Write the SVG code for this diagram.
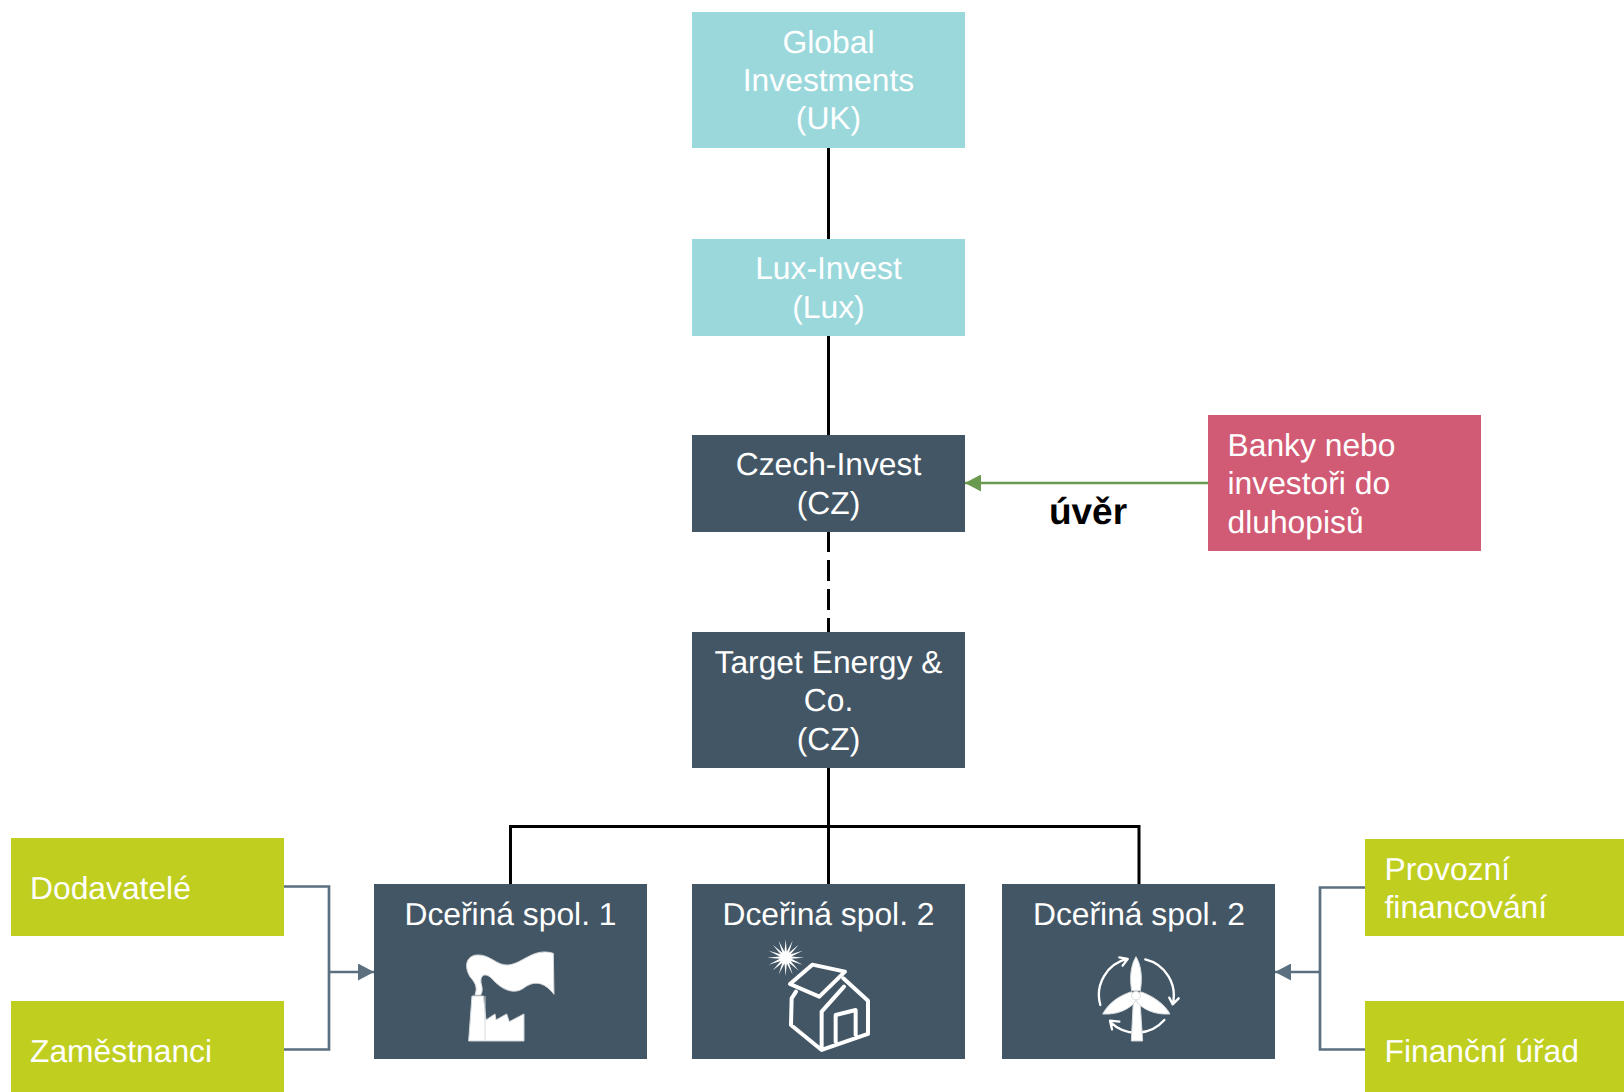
<svg xmlns="http://www.w3.org/2000/svg" width="1624" height="1092" viewBox="0 0 1624 1092">
<defs>
<marker id="ag" markerUnits="userSpaceOnUse" markerWidth="16" markerHeight="17" refX="16" refY="8.500" orient="auto"><path d="M0,0L16,8.500L0,17Z" fill="#6a9a4f"/></marker>
<marker id="ab" markerUnits="userSpaceOnUse" markerWidth="16" markerHeight="17" refX="16" refY="8.500" orient="auto"><path d="M0,0L16,8.500L0,17Z" fill="#5a7080"/></marker>
</defs>
<style>
text{font-family:"Liberation Sans",Arial,sans-serif;font-size:31.800px;fill:#fff;text-rendering:geometricPrecision}
.m{text-anchor:middle}
.teal{fill:#9ad8dc}.dark{fill:#435665}.pink{fill:#d15a74}.lime{fill:#bfce1f}
.k{stroke:#000;stroke-width:3;fill:none}
.s{stroke:#5a7080;stroke-width:2.700;fill:none}
.i{stroke:#fff;stroke-width:12;fill:none;stroke-linejoin:round;stroke-linecap:round}
.f{fill:#fff;stroke:#d5d9dc;stroke-width:3;stroke-linejoin:round}
</style>
<g id="connectors">
<path class="k" d="M828.500,147V239M828.500,335V435"/>
<path class="k" d="M828.500,531V632" stroke-dasharray="21 8"/>
<path class="k" d="M828.500,767V884M510.500,884V826.500H1139V884"/>
<path d="M1208,483H965" stroke="#6a9a4f" stroke-width="2.500" fill="none" marker-end="url(#ag)"/>
<path class="s" d="M284,886.500H329V1049.500H284M329,972H374" marker-end="url(#ab)"/>
<path class="s" d="M1365,887.500H1320V1049.500H1365M1320,972H1275" marker-end="url(#ab)"/>
</g>
<g id="global"><rect class="teal" x="692" y="12" width="273" height="136"/><text class="m" x="828.500" y="53">Global</text><text class="m" x="828.500" y="91">Investments</text><text class="m" x="828.500" y="129">(UK)</text></g>
<g id="lux"><rect class="teal" x="692" y="239" width="273" height="97"/><text class="m" x="828.500" y="279">Lux-Invest</text><text class="m" x="828.500" y="318">(Lux)</text></g>
<g id="czech"><rect class="dark" x="692" y="435" width="273" height="97"/><text class="m" x="828.500" y="475">Czech-Invest</text><text class="m" x="828.500" y="514">(CZ)</text></g>
<g id="target"><rect class="dark" x="692" y="632" width="273" height="136"/><text class="m" x="828.500" y="673">Target Energy &amp;</text><text class="m" x="828.500" y="711">Co.</text><text class="m" x="828.500" y="750">(CZ)</text></g>
<g id="banky"><rect class="pink" x="1208" y="415" width="273" height="136"/><text x="1227.500" y="456">Banky nebo</text><text x="1227.500" y="494">investoři do</text><text x="1227.500" y="533">dluhopisů</text></g>
<g id="uver-label"><text class="m" x="1088" y="523.500" style="fill:#000;font-weight:700;font-size:37px">úvěr</text></g>
<g id="dodavatele"><rect class="lime" x="11" y="838" width="273" height="98"/><text x="30" y="898.500">Dodavatelé</text></g>
<g id="zamestnanci"><rect class="lime" x="11" y="1001" width="273" height="91"/><text x="30" y="1062">Zaměstnanci</text></g>
<g id="provozni"><rect class="lime" x="1365" y="839" width="259" height="97"/><text x="1384.500" y="880">Provozní</text><text x="1384.500" y="918">financování</text></g>
<g id="financni"><rect class="lime" x="1365" y="1001" width="259" height="91"/><text x="1384.500" y="1062">Finanční úřad</text></g>
<g id="dcerina1"><rect class="dark" x="374" y="884" width="273" height="175"/><text class="m" x="510.500" y="925">Dceřiná spol. 1</text>
<g transform="translate(360 870) scale(.3333)">
<path class="f" d="M336,378L370,378L378,450L405,432L408,450L440,432L448,455L492,432V513H326Z"/>
<path d="M375,378V513" stroke="#d5d9dc" stroke-width="3"/>
<path class="f" d="M345,375C354,350 345,338 330,320C312,290 318,258 350,255C390,252 410,288 445,285C490,280 520,232 580,250L582,373C555,338 525,328 490,355C465,372 430,365 395,325C378,308 360,312 363,338C368,355 368,365 362,375Z"/>
</g></g>
<g id="dcerina2"><rect class="dark" x="692" y="884" width="273" height="175"/><text class="m" x="828.500" y="925">Dceřiná spol. 2</text>
<g transform="translate(690 870) scale(.3333)">
<polygon transform="translate(287 263)" fill="#fff" points="55,0 17.700,3.500 50.800,21 15,10 38.900,38.900 10,15 21,50.800 3.500,17.700 0,55 -3.500,17.700 -21,50.800 -10,15 -38.900,38.900 -15,10 -50.800,21 -17.700,3.500 -55,0 -17.700,-3.500 -50.800,-21 -15,-10 -38.900,-38.900 -10,-15 -21,-50.800 -3.500,-17.700 0,-55 3.500,-17.700 21,-50.800 10,-15 38.900,-38.900 15,-10 50.800,-21 17.700,-3.500"/>
<path class="i" d="M300,342L367,284L465,305L388,380Z"/>
<path class="i" d="M318,365L305,385L303,465L395,540L534,492V392L460,325M395,540V425L462,350M437,515V435L497,420V495"/>
</g></g>
<g id="dcerina3"><rect class="dark" x="1002" y="884" width="273" height="175"/><text class="m" x="1139" y="925">Dceřiná spol. 2</text>
<g transform="translate(1001 870) scale(.3333)">
<path d="M298,405A111,111 0 0 1 378,267M355,262L380,267L365,287M433,268A111,111 0 0 1 515,403M505,383L515,403L533,385M490,450A111,111 0 0 1 330,458M355,455L327,452L333,478" stroke="#fff" stroke-width="7" fill="none" stroke-linecap="round" stroke-linejoin="round"/>
<path class="f" d="M397,392H417L425,513H391Z"/>
<path class="f" d="M405,260C420,285 425,320 418,362H392C385,320 390,285 405,260Z"/>
<path class="f" d="M392,365C360,375 325,395 305,432C345,435 385,420 405,392Z"/>
<path class="f" d="M418,365C450,375 490,400 507,432C465,435 425,420 405,392Z"/>
<circle class="f" cx="405" cy="377" r="13"/>
</g></g>
</svg>
